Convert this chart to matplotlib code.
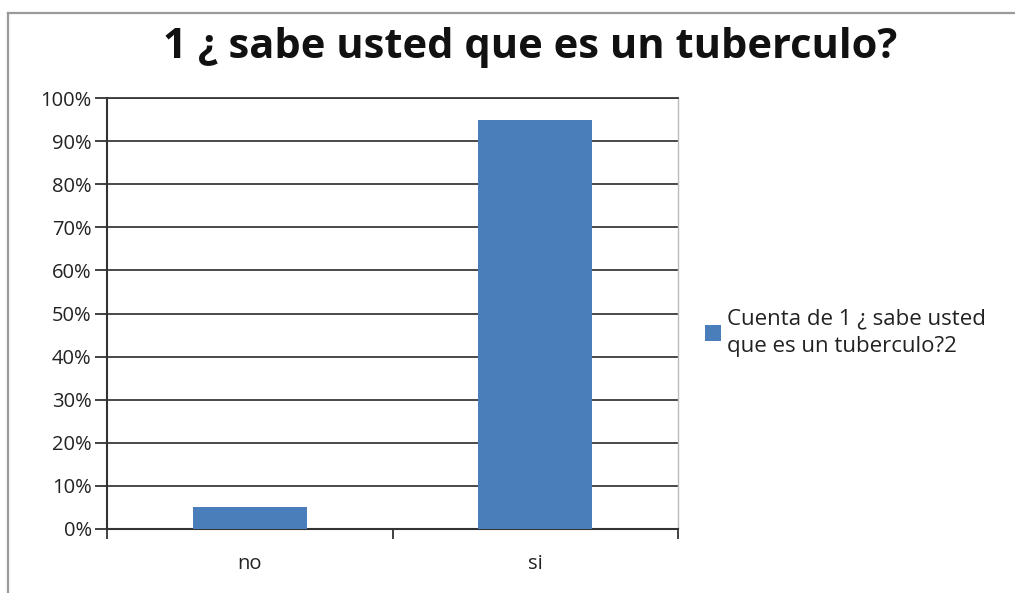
import matplotlib
matplotlib.use("Agg")
import matplotlib.pyplot as plt
from matplotlib.patches import Patch
from matplotlib.lines import Line2D

categories = ["no", "si"]
shares = [0.05, 0.95]
yticks = [0.0, 0.1, 0.2, 0.3, 0.4, 0.5, 0.6, 0.7, 0.8, 0.9, 1.0]
ytick_labels = ["0%", "10%", "20%", "30%", "40%", "50%", "60%", "70%", "80%", "90%", "100%"]
title = "1 ¿ sabe usted que es un tuberculo?"
series_label = "Cuenta de 1 ¿ sabe usted\nque es un tuberculo?2"

W, H = 1015, 593
fig = plt.figure(figsize=(W / 100, H / 100), dpi=100)
plt.rcParams["font.family"] = ["Open Sans", "DejaVu Sans"]

# outer chart frame (top and left edges)
fig.add_artist(Line2D([8 / W, 8 / W], [0, 1 - 13 / H], transform=fig.transFigure,
                      color="#9a9a9a", lw=1.6))
fig.add_artist(Line2D([8 / W, 1], [1 - 13 / H, 1 - 13 / H], transform=fig.transFigure,
                      color="#9a9a9a", lw=1.6))

x0, x1, ytop, ybot = 107, 678, 98, 529
ax = fig.add_axes([x0 / W, 1 - ybot / H, (x1 - x0) / W, (ybot - ytop) / H])

color = "#4a7ebb"
xs = list(range(len(categories)))
ax.bar(xs, shares, width=0.4, color=color, zorder=3, label=series_label)
ax.set_xlim(-0.5, len(categories) - 0.5)
ax.set_ylim(0, 1.0)

ax.set_yticks(yticks)
ax.set_yticklabels(ytick_labels, fontsize=14.5, color="#222222")
ax.yaxis.grid(True, color="#3a3a3a", lw=1.3, zorder=0)
ax.set_axisbelow(True)
ax.tick_params(axis="y", length=9, width=1.3, color="#333333", pad=2)

ax.set_xticks([-0.5, 0.5, 1.5])
ax.set_xticklabels([])
ax.set_xticks(xs, minor=True)
ax.set_xticklabels(categories, minor=True, fontsize=14.5, color="#222222")
ax.tick_params(axis="x", which="major", length=7, width=1.3, color="#333333", direction="out")
ax.tick_params(axis="x", which="minor", length=0, pad=18)

for s in ("left", "bottom"):
    ax.spines[s].set_color("#333333")
    ax.spines[s].set_linewidth(1.5)
ax.spines["top"].set_color("#3a3a3a")
ax.spines["top"].set_linewidth(1.3)
ax.spines["right"].set_color("#bbbbbb")
ax.spines["right"].set_linewidth(1.0)

fig.text(530 / W, 1 - 47 / H, title, ha="center", va="center", fontsize=30,
         fontweight="bold", color="#111111")

leg = fig.legend(handles=[Patch(facecolor=color, label=series_label)],
                 loc="upper left", bbox_to_anchor=(705 / W, 1 - 308 / H),
                 frameon=False, fontsize=16, handlelength=0.7, handleheight=0.7,
                 handletextpad=0.3, borderaxespad=0, borderpad=0, labelspacing=0.2)
for t in leg.get_texts():
    t.set_color("#222222")
    t.set_linespacing(1.45)

fig.savefig("out.png", dpi=100, facecolor="white")
